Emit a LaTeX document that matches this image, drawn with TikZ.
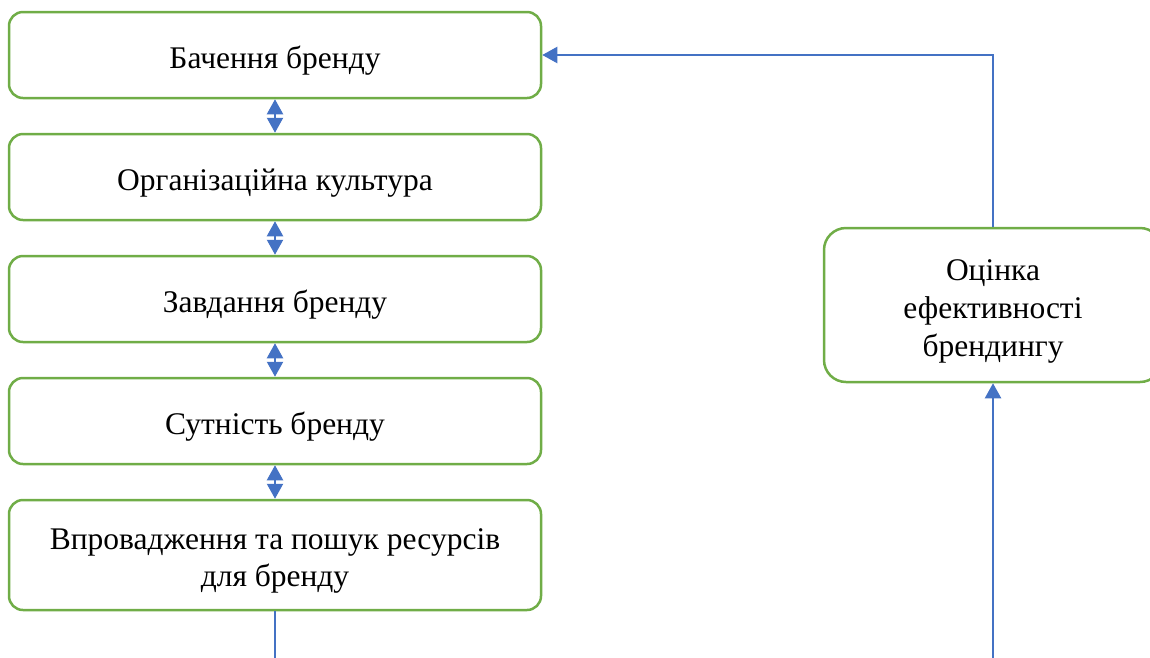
\documentclass[tikz,border=0pt]{standalone}
\usepackage{fontspec}
\setmainfont{Liberation Serif}
\usetikzlibrary{arrows.meta}
\definecolor{boxgreen}{RGB}{112,173,71}
\definecolor{linkblue}{RGB}{68,114,196}
\newcommand\lowtext[1]{\raisebox{-6pt}[\height][\depth]{\begin{tabular}{@{}c@{}}#1\end{tabular}}}
\begin{document}
\begin{tikzpicture}[x=1pt,y=-1pt,
  stagebox/.style={draw=boxgreen, line width=2.5pt, rounded corners=14pt, fill=white,
    minimum width=532pt, minimum height=86pt, inner sep=0pt,
    font=\fontsize{31.5}{37}\selectfont},
  link/.style={draw=linkblue, line width=2.2pt},
  tip/.style={-{Triangle[length=15pt,width=16pt]}},
  dtip/.style={{Triangle[length=15pt,width=16pt]}-{Triangle[length=15pt,width=16pt]}}
]
\useasboundingbox (0,0) rectangle (1150,657);
\node[stagebox] (b1) at (275,55) {\lowtext{Бачення бренду}};
\node[stagebox] (b2) at (275,177) {\lowtext{Організаційна культура}};
\node[stagebox] (b3) at (275,299) {\lowtext{Завдання бренду}};
\node[stagebox] (b4) at (275,421) {\lowtext{Сутність бренду}};
\node[stagebox, minimum height=110pt] (b5) at (275,555) {\lowtext{Впровадження та пошук ресурсів\\для бренду}};
\node[stagebox, minimum width=338pt, minimum height=154pt, rounded corners=22pt, font=\fontsize{31.5}{38}\selectfont] (ev) at (993,305) {\lowtext{Оцінка\\ефективності\\брендингу}};
\coordinate (bl) at (275,660);
\coordinate (br) at (993,660);
\draw[link,dtip] (b1.south) -- (b2.north);
\draw[link,dtip] (b2.south) -- (b3.north);
\draw[link,dtip] (b3.south) -- (b4.north);
\draw[link,dtip] (b4.south) -- (b5.north);
\draw[link,tip] (ev.north) |- (b1.east);
\draw[link,tip] (br) -- (ev.south);
\draw[link] (b5.south) -- (bl);
\end{tikzpicture}
\end{document}
